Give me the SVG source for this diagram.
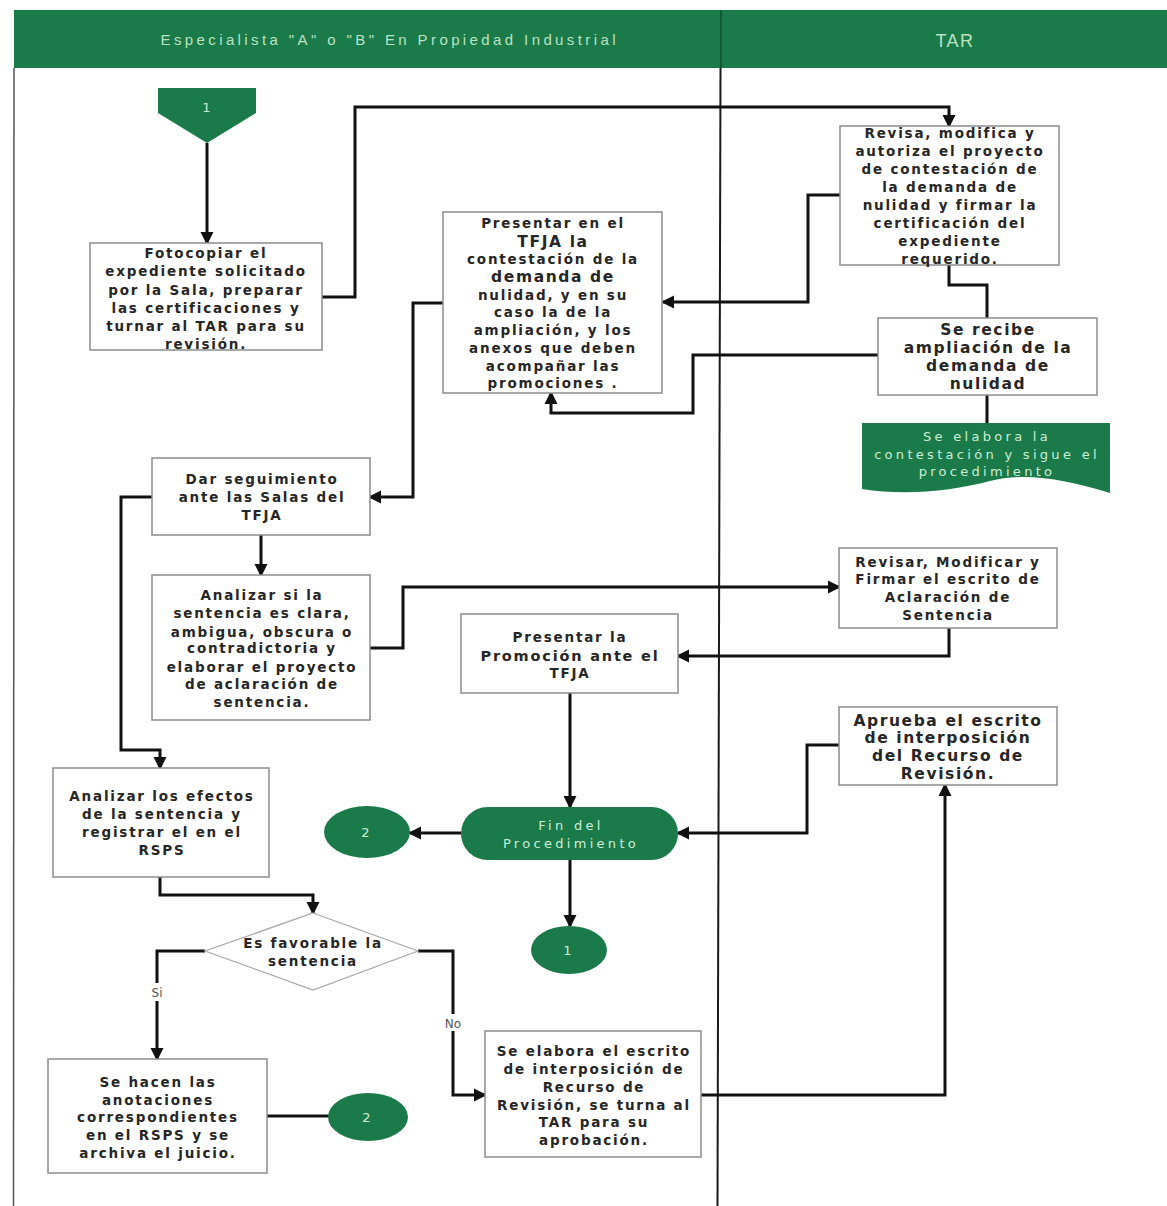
<svg xmlns="http://www.w3.org/2000/svg" width="1167" height="1206" viewBox="0 0 1167 1206">
  <style>
    .box { fill: #ffffff; stroke: #8c8c8c; stroke-width: 1.5; }
    .dia { fill: #ffffff; stroke: #a8a8a8; stroke-width: 1.2; }
    .green { fill: #1b7a4a; }
    .t { font-family: "DejaVu Sans", "Liberation Sans", sans-serif; font-size: 13.5px; font-weight: bold; letter-spacing: 1.8px; fill: #262626; text-anchor: middle; }
    .lg { font-size: 15.5px; letter-spacing: 1.6px; }
    .md { font-size: 14.5px; letter-spacing: 1.8px; }
    .gt { font-family: "DejaVu Sans", "Liberation Sans", sans-serif; font-size: 13px; letter-spacing: 3.3px; fill: #cdeed6; text-anchor: middle; }
    .hd { font-family: "Liberation Sans", "DejaVu Sans", sans-serif; fill: #b9e2c3; text-anchor: middle; }
    .lbl { font-family: "DejaVu Sans", sans-serif; font-size: 12px; fill: #555555; text-anchor: middle; }
    .conn { fill: none; stroke: #111111; stroke-width: 3; }
    .arr { marker-end: url(#arrow); }
  </style>
  <defs>
    <marker id="arrow" markerUnits="userSpaceOnUse" markerWidth="14" markerHeight="14" refX="11" refY="7" orient="auto">
      <path d="M0,0.5 L13,7 L0,13.5 Z" fill="#111111"/>
    </marker>
  </defs>

  <rect width="1167" height="1206" fill="#ffffff"/>

  <!-- swimlane header -->
  <g id="lanes">
    <rect class="green" x="14" y="10" width="1153" height="58"/>
    <line x1="721" y1="10" x2="721" y2="68" stroke="#0e5a33" stroke-width="2"/>
    <text class="hd" x="388" y="45" font-size="15" textLength="455" lengthAdjust="spacing">Especialista "A" o "B" En Propiedad Industrial</text>
    <text class="hd" x="955" y="47" font-size="18" letter-spacing="1.5" fill="#e8f6ec">TAR</text>
    <line x1="14" y1="68" x2="13.5" y2="1206" stroke="#555555" stroke-width="1.5"/>
    <line x1="720.5" y1="68" x2="717.5" y2="1206" stroke="#1a1a1a" stroke-width="2"/>
  </g>

  <!-- connectors -->
  <g id="connectors">
    <path class="conn arr" d="M207,143 V243"/>
    <path class="conn arr" d="M322,297 H355 V107 H949 V126"/>
    <path class="conn arr" d="M840,195 H808 V302 H663"/>
    <path class="conn" stroke-width="2.5" d="M949,265 V285 H987 V318"/>
    <path class="conn arr" d="M878,355 H693 V413 H551 V393"/>
    <path class="conn" stroke-width="2.5" d="M987,395 V423"/>
    <path class="conn arr" d="M443,303 H413 V497 H370"/>
    <path class="conn arr" d="M261,535 V575"/>
    <path class="conn arr" d="M152,497 H121 V750 H160 V768"/>
    <path class="conn arr" d="M370,648 H403 V587 H839"/>
    <path class="conn arr" d="M949,628 V656 H678"/>
    <path class="conn arr" d="M570,693 V807"/>
    <path class="conn arr" d="M839,745 H807 V833 H678"/>
    <path class="conn arr" d="M461,833 H410"/>
    <path class="conn arr" d="M570,860 V926"/>
    <path class="conn arr" d="M160,877 V895 H313 V913"/>
    <path class="conn arr" d="M205,951 H157 V1059"/>
    <path class="conn arr" d="M418,951 H453 V1095 H485"/>
    <path class="conn arr" d="M701,1095 H945 V785"/>
    <path class="conn" stroke="#6a6a6a" stroke-width="4" d="M267,1116 H330"/>
    <rect x="147" y="983" width="20" height="18" fill="#ffffff"/>
    <text class="lbl" x="157" y="997">Si</text>
    <rect x="441" y="1014" width="24" height="17" fill="#ffffff"/>
    <text class="lbl" x="453" y="1028">No</text>
  </g>

  <!-- start connector -->
  <g id="start-1">
    <path class="green" d="M158,88 H256 V113 L207,143 L158,113 Z"/>
    <text class="gt" x="208" y="112" letter-spacing="0">1</text>
  </g>

  <g id="fotocopiar">
    <rect class="box" x="90" y="243" width="232" height="107"/>
    <text class="t" x="206" y="258">Fotocopiar el</text>
    <text class="t" x="206" y="276">expediente solicitado</text>
    <text class="t" x="206" y="295">por la Sala, preparar</text>
    <text class="t" x="206" y="313">las certificaciones y</text>
    <text class="t" x="206" y="331">turnar al TAR para su</text>
    <text class="t" x="206" y="349">revisión.</text>
  </g>

  <g id="revisa">
    <rect class="box" x="840" y="126" width="219" height="139"/>
    <text class="t" x="950" y="138">Revisa, modifica y</text>
    <text class="t" x="950" y="156">autoriza el proyecto</text>
    <text class="t" x="950" y="174">de contestación de</text>
    <text class="t" x="950" y="192">la demanda de</text>
    <text class="t" x="950" y="210">nulidad y firmar la</text>
    <text class="t" x="950" y="228">certificación del</text>
    <text class="t" x="950" y="246">expediente</text>
    <text class="t" x="950" y="264">requerido.</text>
  </g>

  <g id="presentar-contestacion">
    <rect class="box" x="443" y="212" width="219" height="181"/>
    <text class="t" x="553" y="228">Presentar en el</text>
    <text class="t lg" x="553" y="247">TFJA la</text>
    <text class="t" x="553" y="264">contestación de la</text>
    <text class="t lg" x="553" y="282">demanda de</text>
    <text class="t" x="553" y="300">nulidad, y en su</text>
    <text class="t" x="553" y="317">caso la de la</text>
    <text class="t" x="553" y="335">ampliación,  y los</text>
    <text class="t" x="553" y="353">anexos que deben</text>
    <text class="t" x="553" y="371">acompañar las</text>
    <text class="t" x="553" y="388">promociones .</text>
  </g>

  <g id="se-recibe">
    <rect class="box" x="878" y="318" width="219" height="77"/>
    <text class="t lg" x="988" y="335" font-size="16">Se recibe</text>
    <text class="t lg" x="988" y="353" font-size="16">ampliación de la</text>
    <text class="t lg" x="988" y="371" font-size="16">demanda de</text>
    <text class="t lg" x="988" y="389" font-size="16">nulidad</text>
  </g>

  <g id="se-elabora-contestacion">
    <path class="green" d="M862,423 H1110 V493 C1065,479 1025,472 990,481 C952,491 905,496 862,489 Z"/>
    <text class="gt" x="987" y="441">Se elabora la</text>
    <text class="gt" x="987" y="459">contestación y sigue el</text>
    <text class="gt" x="987" y="476">procedimiento</text>
  </g>

  <g id="dar-seguimiento">
    <rect class="box" x="152" y="458" width="218" height="77"/>
    <text class="t" x="262" y="484">Dar seguimiento</text>
    <text class="t" x="262" y="502">ante las Salas del</text>
    <text class="t" x="262" y="520">TFJA</text>
  </g>

  <g id="analizar-sentencia">
    <rect class="box" x="152" y="575" width="218" height="145"/>
    <text class="t" x="262" y="600">Analizar si la</text>
    <text class="t" x="262" y="618">sentencia es clara,</text>
    <text class="t" x="262" y="637">ambigua, obscura o</text>
    <text class="t" x="262" y="653">contradictoria y</text>
    <text class="t" x="262" y="672">elaborar el proyecto</text>
    <text class="t" x="262" y="689">de aclaración de</text>
    <text class="t" x="262" y="707">sentencia.</text>
  </g>

  <g id="revisar-aclaracion">
    <rect class="box" x="839" y="548" width="218" height="80"/>
    <text class="t" x="948" y="567">Revisar, Modificar y</text>
    <text class="t" x="948" y="584">Firmar el escrito de</text>
    <text class="t" x="948" y="602">Aclaración de</text>
    <text class="t" x="948" y="620">Sentencia</text>
  </g>

  <g id="presentar-promocion">
    <rect class="box" x="461" y="614" width="217" height="79"/>
    <text class="t" x="570" y="642">Presentar la</text>
    <text class="t md" x="570" y="661">Promoción ante el</text>
    <text class="t" x="570" y="678">TFJA</text>
  </g>

  <g id="aprueba">
    <rect class="box" x="839" y="707" width="218" height="78"/>
    <text class="t lg" x="948" y="726">Aprueba el escrito</text>
    <text class="t lg" x="948" y="743">de interposición</text>
    <text class="t lg" x="948" y="761">del Recurso de</text>
    <text class="t lg" x="948" y="779">Revisión.</text>
  </g>

  <g id="fin">
    <rect class="green" x="461" y="807" width="217" height="53" rx="26.5"/>
    <text class="gt" x="571" y="830" letter-spacing="3.8">Fin del</text>
    <text class="gt" x="571" y="848" letter-spacing="3.8">Procedimiento</text>
  </g>

  <g id="conector-2-a">
    <ellipse class="green" cx="367" cy="832" rx="43" ry="26"/>
    <text class="gt" x="367" y="837" letter-spacing="0">2</text>
  </g>

  <g id="conector-1">
    <ellipse class="green" cx="569" cy="950" rx="38" ry="24"/>
    <text class="gt" x="569" y="955" letter-spacing="0">1</text>
  </g>

  <g id="analizar-efectos">
    <rect class="box" x="53" y="768" width="216" height="109"/>
    <text class="t" x="162" y="801">Analizar los efectos</text>
    <text class="t" x="162" y="819">de la sentencia y</text>
    <text class="t" x="162" y="837">registrar el en el</text>
    <text class="t" x="162" y="855">RSPS</text>
  </g>

  <g id="es-favorable">
    <polygon class="dia" points="313,913 418,951 313,990 205,951"/>
    <text class="t" x="313" y="948" font-size="12.5" letter-spacing="2">Es favorable la</text>
    <text class="t" x="313" y="966" font-size="12.5" letter-spacing="2">sentencia</text>
  </g>

  <g id="anotaciones">
    <rect class="box" x="48" y="1059" width="219" height="114"/>
    <text class="t" x="158" y="1087">Se hacen las</text>
    <text class="t" x="158" y="1105">anotaciones</text>
    <text class="t" x="158" y="1122">correspondientes</text>
    <text class="t" x="158" y="1140">en el RSPS y se</text>
    <text class="t" x="158" y="1158">archiva el juicio.</text>
  </g>

  <g id="conector-2-b">
    <ellipse class="green" cx="368" cy="1117" rx="40" ry="24"/>
    <text class="gt" x="368" y="1122" letter-spacing="0">2</text>
  </g>

  <g id="recurso-revision">
    <rect class="box" x="485" y="1031" width="216" height="126"/>
    <text class="t" x="594" y="1056">Se elabora el escrito</text>
    <text class="t" x="594" y="1074">de interposición de</text>
    <text class="t" x="594" y="1092">Recurso de</text>
    <text class="t" x="594" y="1110">Revisión, se turna al</text>
    <text class="t" x="594" y="1127">TAR para su</text>
    <text class="t" x="594" y="1145">aprobación.</text>
  </g>
</svg>
